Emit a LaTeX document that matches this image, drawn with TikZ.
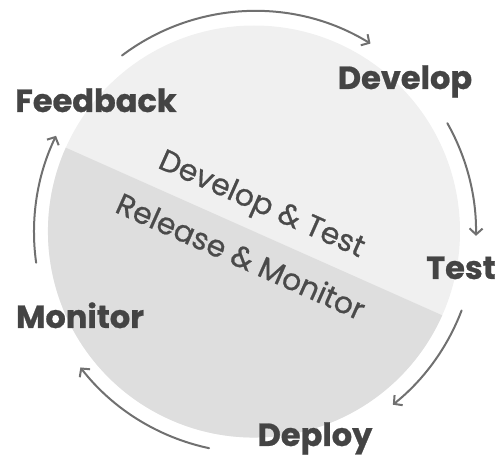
\documentclass[tikz,border=0pt]{standalone}
\usepackage{fontspec}
\setmainfont{Poppins}
\newfontfamily\innerfont[FakeBold=0.7]{Poppins}
\newfontfamily\lblfont[FakeBold=0.8]{Poppins}
\usetikzlibrary{arrows.meta,calc}
\definecolor{upperc}{HTML}{F0F0F0}
\definecolor{lowerc}{HTML}{DEDEDE}
\definecolor{labelc}{HTML}{444444}
\definecolor{innerc}{HTML}{4A4A4A}
\definecolor{arcc}{HTML}{707070}
\tikzset{
  lbl/.style={anchor=base, text=labelc, font=\lblfont\fontsize{32}{32}\selectfont\bfseries, inner sep=0pt},
  inner/.style={text=innerc, font=\innerfont\fontsize{30}{30}\selectfont, inner sep=0pt, rotate=-24},
  cyc/.style={draw=arcc, line width=2pt, line cap=round, -{Straight Barb[length=6pt,width=13pt,line width=2pt]}}
}
\begin{document}
\begin{tikzpicture}[x=1pt,y=-1pt]
\useasboundingbox (0,0) rectangle (499,457);
\coordinate (C) at (254,231.5);
\coordinate (A) at (255,232);
% circle halves
\fill[upperc] (C) circle[radius=206];
\fill[lowerc] ($(C)+(24:206)$) arc[start angle=24,end angle=204,radius=206] -- cycle;
% inner texts
\node[inner] (dt) at (261,206) {Develop \& Test};
\node[inner] (rm) at (241,256) {Release \& Monitor};
% labels
\node[lbl] (fb) at (96,112) {Feedback};
\node[lbl] (dv) at (405,89) {Develop};
\node[lbl] (ts) at (461,279) {Test};
\node[lbl] (mn) at (80,328) {Monitor};
\node[lbl] (dp) at (315,446) {Deploy};
% cycle arcs
\draw[cyc] ($(A)+(-127:221)$) arc[start angle=-127,end angle=-58.5,radius=221];
\draw[cyc] ($(A)+(-29.5:221)$) arc[start angle=-29.5,end angle=1,radius=221];
\draw[cyc] ($(A)+(20.8:221)$) arc[start angle=20.8,end angle=51.4,radius=221];
\draw[cyc] ($(A)+(102:221)$) arc[start angle=102,end angle=142.2,radius=221];
\draw[cyc] ($(A)+(172:221)$) arc[start angle=172,end angle=205.8,radius=221];
\end{tikzpicture}
\end{document}
